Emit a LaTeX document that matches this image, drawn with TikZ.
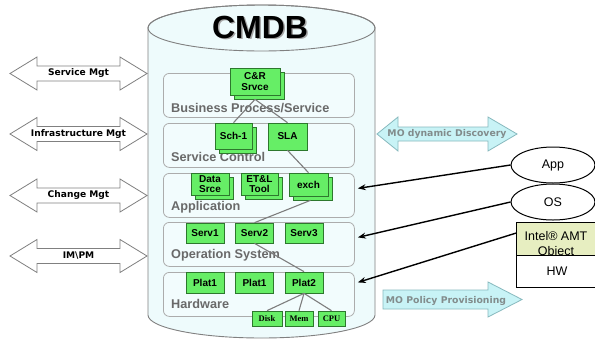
\documentclass[tikz,border=0pt]{standalone}
\usepackage{fontspec}
\setmainfont{Liberation Sans}
\newfontfamily\dvsfont{DejaVu Sans}
\newfontfamily\smallserif{Liberation Serif}
\usetikzlibrary{shapes.geometric,shadows,arrows.meta,calc}

\definecolor{cylfill}{RGB}{238,251,252}
\definecolor{cyledge}{RGB}{128,128,128}
\definecolor{layeredge}{RGB}{172,172,172}
\definecolor{layerfill}{RGB}{242,252,253}
\definecolor{gfill}{RGB}{102,238,102}
\definecolor{gedge}{RGB}{45,120,45}
\definecolor{labgray}{RGB}{105,105,105}
\definecolor{linkgray}{RGB}{125,125,125}
\definecolor{mofill}{RGB}{200,243,246}
\definecolor{moedge}{RGB}{135,185,190}
\definecolor{motext}{RGB}{130,140,140}
\definecolor{intelfill}{RGB}{231,238,193}

\begin{document}
\begin{tikzpicture}[x=1pt,y=-1pt,
  layer/.style={draw=layeredge, fill=layerfill, rounded corners=6pt, line width=0.8pt,
    minimum width=191pt, minimum height=44pt, anchor=north west, inner sep=0pt},
  layerlabel/.style={anchor=base west, inner sep=0pt, text=labgray,
    font=\bfseries\fontsize{12.7}{13}\selectfont},
  gbox/.style={draw=gedge, fill=gfill, line width=0.7pt, inner sep=0pt, align=center,
    font=\bfseries\fontsize{10}{10.5}\selectfont},
  stack/.style={copy shadow={shadow xshift=4pt, shadow yshift=-4pt}},
  hwpart/.style={gbox, minimum height=15pt, font=\smallserif\bfseries\fontsize{8.5}{9}\selectfont},
  link/.style={draw=linkgray, line width=1.1pt},
  mgtarrow/.style={draw=cyledge, fill=white, line width=0.8pt},
  mgtlabel/.style={inner sep=0pt, font=\dvsfont\bfseries\fontsize{9.1}{10}\selectfont},
  moarrow/.style={draw=moedge, fill=mofill, line width=0.8pt},
  molabel/.style={inner sep=0pt, text=motext, font=\dvsfont\bfseries\fontsize{9.3}{10}\selectfont},
  mo/.style={ellipse, draw=black, fill=white, line width=1pt, minimum width=84pt,
    minimum height=36pt, inner sep=0pt, font=\fontsize{12.5}{13}\selectfont},
  objbox/.style={rectangle, draw=black, line width=1.2pt, minimum width=81pt,
    anchor=north west, inner sep=0pt, font=\fontsize{12.5}{14.5}\selectfont},
  ptr/.style={draw=black, line width=1.4pt, -{Stealth[length=8pt,width=6pt]}}
]
\useasboundingbox[fill=white] (0,0) rectangle (595,341);

% the CMDB cylinder
\filldraw[fill=cylfill, draw=cyledge, line width=0.9pt]
  (148,28) -- (148,315)
  arc[start angle=180, end angle=360, x radius=113.5pt, y radius=23pt]
  -- (375,28)
  arc[start angle=0, end angle=180, x radius=113.5pt, y radius=23pt] -- cycle;
\draw[cyledge, line width=0.9pt] (261.5,28) ellipse [x radius=113.5pt, y radius=23pt];
\node[text=black!35, font=\bfseries\fontsize{32}{32}\selectfont] at (261.5,28.5) {CMDB};
\node[font=\bfseries\fontsize{32}{32}\selectfont] (cmdb) at (260,27) {CMDB};

% layers
\node[layer] (lbps) at (163,73)  {};
\node[layer] (lsc)  at (163,123) {};
\node[layer] (lapp) at (163,173) {};
\node[layer] (los)  at (163,222) {};
\node[layer] (lhw)  at (163,272) {};
\node[layerlabel] at (171,112) {Business Process/Service};
\node[layerlabel] at (171,161) {Service Control};
\node[layerlabel] at (171,210) {Application};
\node[layerlabel] at (171,258) {Operation System};
\node[layerlabel] at (171,308) {Hardware};

% configuration items
\node[gbox, stack, minimum width=50pt, minimum height=27pt] (cr)   at (255,81.5)  {C\&R\\Srvce};
\node[gbox, stack, minimum width=37pt, minimum height=26pt] (sch)  at (233.5,136) {Sch-1};
\node[gbox,        minimum width=39pt, minimum height=27pt] (sla)  at (287.5,136.5) {SLA};
\node[gbox, stack, minimum width=38pt, minimum height=22pt] (data) at (210,184)   {Data\\Srce};
\node[gbox, stack, minimum width=37pt, minimum height=22pt] (etl)  at (259.5,184) {ET\&L\\Tool};
\node[gbox, stack, minimum width=39pt, minimum height=23pt] (exch) at (308.5,184.5) {exch};
\node[gbox, minimum width=38pt, minimum height=20pt] (serv1) at (205,233)   {Serv1};
\node[gbox, minimum width=38pt, minimum height=20pt] (serv2) at (254.5,233) {Serv2};
\node[gbox, minimum width=38pt, minimum height=20pt] (serv3) at (304,233)   {Serv3};
\node[gbox, minimum width=38pt, minimum height=21pt] (plata) at (205,282.5)   {Plat1};
\node[gbox, minimum width=38pt, minimum height=21pt] (platb) at (254.5,282.5) {Plat1};
\node[gbox, minimum width=38pt, minimum height=21pt] (platc) at (304,282.5)   {Plat2};
\node[hwpart, minimum width=30pt] (disk) at (267,318.5)   {Disk};
\node[hwpart, minimum width=28pt] (mem)  at (299,318.5)   {Mem};
\node[hwpart, minimum width=27pt] (cpu)  at (331.5,318.5) {CPU};

% dependencies between items
\draw[link] ($(cr.south)+(0,4)$) -- (sch.north);
\draw[link] ($(cr.south)+(0,4)$) -- (sla.north);
\draw[link] (sla.south) -- (exch.north);
\draw[link] ($(exch.south)+(2,4)$) -- (serv2.north);
\draw[link] (serv2.south) -- (platc.north);
\draw[link] (platc.south) -- (disk.north);
\draw[link] (platc.south) -- (mem.north);
\draw[link] (platc.south) -- (cpu.north);

% management processes
\foreach \yc/\txt/\nm in {73.5/Service Mgt/sm, 134/Infrastructure Mgt/im,
                          195.5/Change Mgt/cm, 256/IM\textbackslash PM/ip} {
  \draw[mgtarrow] (10,\yc) -- (37,\yc-16.5) -- (37,\yc-7.5) -- (120,\yc-7.5)
    -- (120,\yc-16.5) -- (147,\yc) -- (120,\yc+16.5) -- (120,\yc+7.5)
    -- (37,\yc+7.5) -- (37,\yc+16.5) -- cycle;
  \node[mgtlabel] (\nm) at (78.5,\yc) {\txt};
}

% managed object flows
\draw[moarrow] (377,134) -- (398,117) -- (398,127) -- (488,127) -- (488,117)
  -- (517,134) -- (488,151) -- (488,141) -- (398,141) -- (398,151) -- cycle;
\node[molabel] (disc) at (447,134) {MO dynamic Discovery};
\draw[moarrow] (383,290) -- (488,290) -- (488,282) -- (522,299.5) -- (488,317)
  -- (488,309) -- (383,309) -- cycle;
\node[molabel] (prov) at (446,300.5) {MO Policy Provisioning};

% managed objects
\node[mo] (app) at (553,165) {App};
\node[mo] (os)  at (553,202) {OS};
\node[objbox, fill=intelfill, minimum height=33pt] (intel) at (516,222) {};
\node[inner sep=0pt, align=center, font=\fontsize{12.5}{14.5}\selectfont] (intellabel)
  at (556,245) {Intel\textregistered{} AMT\\Object};
\node[objbox, fill=white, minimum height=32pt] (hw) at (516,255) {HW};

\draw[ptr] (app.west) -- ([shift={(3,-7)}]lapp.east);
\draw[ptr] (os.west) -- ([shift={(3,-7)}]los.east);
\draw[ptr] ([shift={(0,-6)}]intel.west) -- ([shift={(3,-12)}]lhw.east);
\end{tikzpicture}
\end{document}
